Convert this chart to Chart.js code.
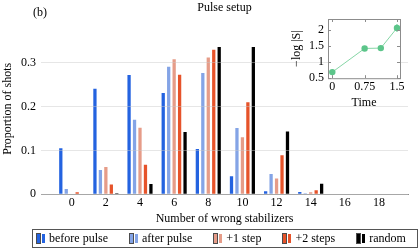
<!DOCTYPE html>
<html>
<head>
<meta charset="utf-8">
<script src="https://cdn.jsdelivr.net/npm/chart.js@4/dist/chart.umd.min.js"></script>
<style>
  body { margin: 0; background: #fff; }
  #wrap { position: relative; width: 419px; height: 249px; background: #fff; }
  #inset { position: absolute; left: 0; top: 0; pointer-events: none; }
  #legend {
    position: absolute; left: 32px; top: 229px; width: 384px; height: 17px;
    border: 1px solid #555; display: flex; align-items: center;
    font: 12px "Liberation Serif", serif; color: #000; box-sizing: content-box;
  }
  .item { display: flex; align-items: center; margin-left: 3px; margin-right: 18px; white-space: nowrap; }
  .icon { display: flex; margin-right: 2px; }
  .icon span { display: block; width: 3px; height: 9px; margin-right: 2px; }
</style>
</head>
<body>
<div id="wrap">
  <canvas id="main" width="419" height="249"></canvas>
  <canvas id="inset" width="419" height="249"></canvas>
  <div id="legend"></div>
</div>
<script>
// ==================== DATOS ====================
const wrongStabilizers = [0, 2, 4, 6, 8, 10, 12, 14, 16, 18];

const beforePulse  = [0.105, 0.241, 0.272, 0.231, 0.103, 0.041, 0.007, 0.005, 0, 0];
const afterPulse   = [0.012, 0.055, 0.170, 0.291, 0.277, 0.151, 0.046, 0.002, 0, 0];
const plusOneStep  = [0, 0.062, 0.152, 0.308, 0.312, 0.130, 0.036, 0.0045, 0, 0];
const plusTwoSteps = [0.0045, 0.022, 0.067, 0.273, 0.330, 0.210, 0.089, 0.009, 0, 0];
const randomShots  = [0, 0.002, 0.0235, 0.142, 0.336, 0.336, 0.143, 0.024, 0.001, 0];

const seriesNames  = ['before pulse', 'after pulse', '+1 step', '+2 steps', 'random'];
const seriesValues = [beforePulse, afterPulse, plusOneStep, plusTwoSteps, randomShots];
const seriesColors = ['#2463e0', '#84a4e6', '#e69c88', '#e6532a', '#000000'];

// inset
const insetTime   = [0, 0.75, 1.125, 1.5];
const insetLogS   = [0.67, 1.41, 1.42, 2.05];
const insetErr    = [0, 0, 0, 0.12];
const insetXTicks = [0, 0.75, 1.5];

const FONT = { family: '"Liberation Serif", serif', size: 12 };

// ==================== PLUGINS ====================
const panelLabel = {
    id: 'panelLabel',
    afterDraw(chart) {
        const ctx = chart.ctx;
        ctx.save();
        ctx.font = '12px "Liberation Serif", serif';
        ctx.fillStyle = '#000';
        ctx.textBaseline = 'middle';
        ctx.fillText('(b)', 33, 13);
        ctx.restore();
    }
};

const insetFrame = {
    id: 'insetFrame',
    beforeDraw(chart) {
        const a = chart.chartArea;
        const ctx = chart.ctx;
        ctx.save();
        ctx.fillStyle = '#fff';
        ctx.fillRect(a.left, a.top, a.right - a.left, a.bottom - a.top);
        ctx.restore();
    },
    afterDraw(chart) {
        const a = chart.chartArea;
        const ctx = chart.ctx;
        ctx.save();
        ctx.strokeStyle = '#8c8c8c';
        ctx.lineWidth = 1;
        ctx.strokeRect(a.left + 0.5, a.top + 0.5, a.right - a.left, a.bottom - a.top);
        // marcas interiores
        ctx.beginPath();
        chart.scales.y.ticks.forEach(t => {
            const y = Math.round(chart.scales.y.getPixelForValue(t.value)) + 0.5;
            ctx.moveTo(a.left, y); ctx.lineTo(a.left + 3, y);
            ctx.moveTo(a.right, y); ctx.lineTo(a.right - 3, y);
        });
        chart.scales.x.ticks.forEach(t => {
            const x = Math.round(chart.scales.x.getPixelForValue(t.value)) + 0.5;
            ctx.moveTo(x, a.bottom); ctx.lineTo(x, a.bottom - 3);
            ctx.moveTo(x, a.top); ctx.lineTo(x, a.top + 3);
        });
        ctx.stroke();
        ctx.restore();
    }
};

const errorBars = {
    id: 'errorBars',
    afterDatasetsDraw(chart) {
        const ctx = chart.ctx;
        const xs = chart.scales.x, ys = chart.scales.y;
        ctx.save();
        ctx.strokeStyle = '#5cc58a';
        ctx.lineWidth = 1;
        insetErr.forEach((e, i) => {
            if (!e) return;
            const x = xs.getPixelForValue(insetTime[i]);
            ctx.beginPath();
            ctx.moveTo(x, ys.getPixelForValue(insetLogS[i] - e));
            ctx.lineTo(x, ys.getPixelForValue(insetLogS[i] + e));
            ctx.stroke();
        });
        ctx.restore();
    }
};

// ==================== CHART PRINCIPAL ====================
new Chart(document.getElementById('main').getContext('2d'), {
    type: 'bar',
    data: {
        datasets: seriesNames.map((name, k) => ({
            label: name,
            data: wrongStabilizers.map((x, i) => ({ x: x, y: seriesValues[k][i] })),
            backgroundColor: seriesColors[k],
            borderWidth: 0
        }))
    },
    options: {
        responsive: false,
        animation: false,
        datasets: { bar: { categoryPercentage: 0.8, barPercentage: 0.6 } },
        layout: { padding: { left: 1, right: 11, top: 0, bottom: 23 } },
        plugins: {
            legend: { display: false },
            tooltip: { enabled: false },
            title: {
                display: true,
                fullSize: false,
                text: 'Pulse setup',
                color: '#000',
                font: { family: FONT.family, size: 12, weight: 'normal' },
                padding: { top: 1, bottom: 8 }
            }
        },
        scales: {
            x: {
                type: 'linear',
                min: -1.8,
                max: 19.7,
                offset: false,
                grid: { display: false, drawTicks: false, offset: false },
                border: { display: true, color: '#8c8c8c', width: 1 },
                ticks: { stepSize: 2, includeBounds: false, padding: 1, color: '#000', font: FONT, maxRotation: 0 },
                title: { display: true, text: 'Number of wrong stabilizers', color: '#000', font: FONT, padding: { top: 1, bottom: 0 } }
            },
            y: {
                min: 0,
                max: 0.39,
                grid: { color: 'rgba(200,200,200,0.45)', drawTicks: false, z: 1 },
                border: { display: false },
                ticks: { stepSize: 0.1, includeBounds: false, padding: 5, color: '#000', font: FONT },
                title: { display: true, text: 'Proportion of shots', color: '#000', font: FONT, padding: 0 },
                afterFit: s => { s.width = 40; }
            }
        }
    },
    plugins: [panelLabel]
});

// ==================== INSET ====================
new Chart(document.getElementById('inset').getContext('2d'), {
    type: 'line',
    data: {
        datasets: [{
            data: insetTime.map((t, i) => ({ x: t, y: insetLogS[i] })),
            borderColor: '#86d6a6',
            borderWidth: 1,
            backgroundColor: '#5cc58a',
            pointBackgroundColor: '#5cc58a',
            pointBorderWidth: 0,
            pointRadius: 3.2,
            tension: 0,
            clip: false
        }]
    },
    options: {
        responsive: false,
        animation: false,
        layout: { padding: { left: 290, right: 19, top: 19, bottom: 139 } },
        plugins: { legend: { display: false }, tooltip: { enabled: false } },
        scales: {
            x: {
                type: 'linear',
                min: -0.1,
                max: 1.57,
                grid: { display: false, drawTicks: false },
                border: { display: false },
                afterBuildTicks: s => { s.ticks = insetXTicks.map(v => ({ value: v })); },
                ticks: { padding: 1, color: '#000', font: FONT, maxRotation: 0,
                         callback: v => String(v) },
                title: { display: true, text: 'Time', color: '#000', font: FONT, padding: { top: 1, bottom: 0 } }
            },
            y: {
                min: 0.48,
                max: 2.33,
                grid: { display: false, drawTicks: false },
                border: { display: false },
                ticks: { stepSize: 0.5, includeBounds: false, padding: 4, color: '#000', font: FONT,
                         callback: v => String(v) },
                title: { display: true, text: '\u2212log |S|', color: '#000', font: FONT, padding: 0 },
                afterFit: s => { s.width = 38; }
            }
        }
    },
    plugins: [insetFrame, errorBars]
});

// ==================== LEYENDA ====================
const legendDiv = document.getElementById('legend');
seriesNames.forEach((name, k) => {
    const item = document.createElement('div');
    item.className = 'item';
    const icon = document.createElement('div');
    icon.className = 'icon';
    for (let j = 0; j < 2; j++) {
        const bar = document.createElement('span');
        bar.style.background = seriesColors[k];
        bar.style.outline = j === 0 ? '1px solid rgba(0,0,0,0.7)' : 'none';
        bar.style.marginLeft = j === 0 ? '1px' : '0';
        icon.appendChild(bar);
    }
    const label = document.createElement('span');
    label.textContent = name;
    item.appendChild(icon);
    item.appendChild(label);
    legendDiv.appendChild(item);
});
</script>
</body>
</html>
